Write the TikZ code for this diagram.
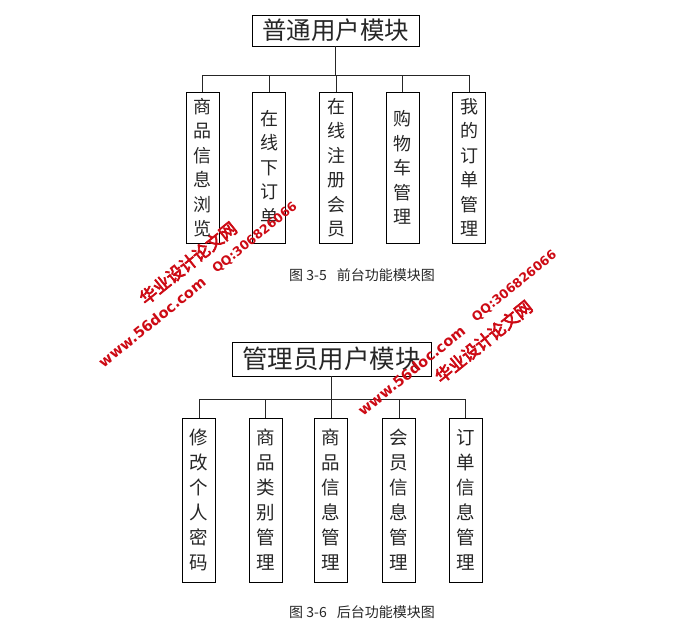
\documentclass[tikz,border=0pt]{standalone}
\usepackage{fontspec}
\setmainfont{Noto Sans CJK SC}
\newfontfamily\wmlatin{DejaVu Sans}
\newfontfamily\wmcjk[FakeBold=4]{Noto Sans CJK SC}
\definecolor{wmred}{RGB}{205,10,20}
\tikzset{
  every node/.style={inner sep=0pt, outer sep=0pt},
  titlebox/.style={draw, line width=0.9pt, align=center, text=black!85},
  childbox/.style={draw, line width=0.9pt, minimum width=33pt, align=center, text=black!85,
    font=\fontsize{18}{24.5}\selectfont},
  childboxb/.style={childbox, font=\fontsize{18.5}{25}\selectfont},
  conn/.style={line width=0.9pt, draw=black!85},
  caption/.style={font=\fontsize{14}{16}\selectfont, text=black!85},
  wmtext/.style={text=wmred, rotate=39},
}
\begin{document}
\begin{tikzpicture}[x=1pt,y=1pt]
\useasboundingbox (0,0) rectangle (677,-632);
% ---------- top diagram ----------
\node[titlebox, minimum width=167pt, minimum height=31pt, font=\fontsize{24.5}{26}\selectfont] (t1) at (335.5,-30.5) {普通用户模块};
\node[childbox, minimum height=151pt] (a1) at (202.5,-167.5) {商\\品\\信\\息\\浏\\览};
\node[childbox, minimum height=151pt] (a2) at (269,-167.5) {在\\线\\下\\订\\单};
\node[childbox, minimum height=151pt] (a3) at (336,-167.5) {在\\线\\注\\册\\会\\员};
\node[childbox, minimum height=151pt] (a4) at (402.5,-167.5) {购\\物\\车\\管\\理};
\node[childbox, minimum height=151pt] (a5) at (469,-167.5) {我\\的\\订\\单\\管\\理};
\coordinate (bus1) at (335.5,-75);
\draw[conn] (t1.south) -- (bus1);
\draw[conn] (a1.north |- bus1) -- (a5.north |- bus1);
\foreach \i in {1,...,5} { \draw[conn] (a\i.north) -- (a\i.north |- bus1); }
\node[caption] (cap1) at (362,-275) {图~3-5\hspace{10pt}前台功能模块图};
% ---------- bottom diagram ----------
\node[titlebox, minimum width=199pt, minimum height=34pt, font=\fontsize{25.5}{27}\selectfont] (t2) at (331.5,-359) {管理员用户模块};
\node[childboxb, minimum height=164pt] (b1) at (199,-500) {修\\改\\个\\人\\密\\码};
\node[childboxb, minimum height=164pt] (b2) at (265.5,-500) {商\\品\\类\\别\\管\\理};
\node[childboxb, minimum height=164pt] (b3) at (331,-500) {商\\品\\信\\息\\管\\理};
\node[childboxb, minimum height=164pt] (b4) at (399,-500) {会\\员\\信\\息\\管\\理};
\node[childboxb, minimum height=164pt] (b5) at (465.5,-500) {订\\单\\信\\息\\管\\理};
\coordinate (bus2) at (331.5,-399);
\draw[conn] (t2.south) -- (bus2);
\draw[conn] (b1.north |- bus2) -- (b5.north |- bus2);
\foreach \i in {1,...,5} { \draw[conn] (b\i.north) -- (b\i.north |- bus2); }
\node[caption] (cap2) at (362,-612) {图~3-6\hspace{10pt}后台功能模块图};
% ---------- watermarks ----------
\node[wmtext, font=\wmcjk\fontsize{17}{18}\selectfont] (w1) at (188,-263) {华业设计论文网};
\node[wmtext, font=\wmlatin\bfseries\fontsize{14.5}{16}\selectfont] (w2) at (152,-322) {www.56doc.com};
\node[wmtext, font=\wmlatin\bfseries\fontsize{12.5}{14}\selectfont] (w3) at (255,-238) {QQ:306826066};
\node[wmtext, font=\wmlatin\bfseries\fontsize{14.5}{16}\selectfont] (w4) at (411.5,-370.5) {www.56doc.com};
\node[wmtext, font=\wmlatin\bfseries\fontsize{12.5}{14}\selectfont] (w5) at (514.5,-286.5) {QQ:306826066};
\node[wmtext, font=\wmcjk\fontsize{17}{18}\selectfont] (w6) at (483.5,-341.5) {华业设计论文网};
\end{tikzpicture}
\end{document}
